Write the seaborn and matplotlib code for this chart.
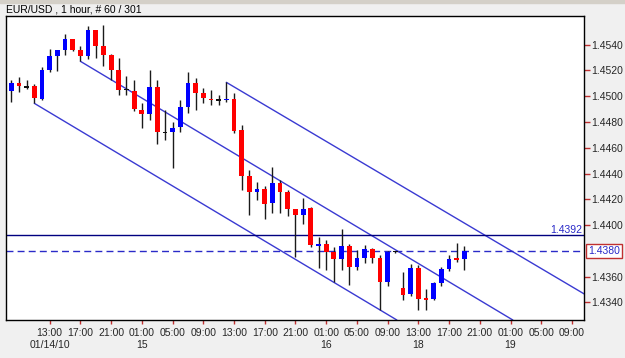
import numpy as np
import pandas as pd
import matplotlib
matplotlib.use("Agg")
import matplotlib.pyplot as plt
import matplotlib.transforms as mtransforms
from matplotlib.patches import Rectangle
import seaborn as sns

# ---------------- data (EUR/USD, 1 hour, 60 bars) ----------------
opens = [1.45043, 1.45101, 1.45072, 1.45077, 1.44981, 1.45206, 1.45315, 1.45357, 1.45444, 1.45357,
         1.45315, 1.45512, 1.45388, 1.45323, 1.45206, 1.45051, 1.45039, 1.44896, 1.44865, 1.45070,
         1.44720, 1.44725, 1.44764, 1.44919, 1.45101, 1.45023, 1.44979, 1.44971, 1.44973, 1.44979,
         1.44738, 1.44381, 1.44259, 1.44278, 1.44169, 1.44329, 1.44259, 1.44125, 1.44082, 1.44131,
         1.43846, 1.43851, 1.43794, 1.43737, 1.43840, 1.43677, 1.43747, 1.43812, 1.43747, 1.43561,
         1.43794, 1.43510, 1.43466, 1.43670, 1.43431, 1.43424, 1.43549, 1.43657, 1.43740, 1.43737]
highs = [1.45129, 1.45147, 1.45126, 1.45095, 1.45229, 1.45369, 1.45360, 1.45483, 1.45448, 1.45388,
         1.45543, 1.45515, 1.45555, 1.45326, 1.45297, 1.45155, 1.45124, 1.44948, 1.45204, 1.45129,
         1.44893, 1.44803, 1.44971, 1.45186, 1.45139, 1.45062, 1.45049, 1.45010, 1.45108, 1.45023,
         1.44777, 1.44428, 1.44337, 1.44304, 1.44449, 1.44350, 1.44273, 1.44128, 1.44210, 1.44143,
         1.43908, 1.43885, 1.43830, 1.43968, 1.43853, 1.43807, 1.43846, 1.43820, 1.43768, 1.43799,
         1.43803, 1.43639, 1.43698, 1.43690, 1.43504, 1.43555, 1.43677, 1.43768, 1.43859, 1.43842]
lows = [1.44953, 1.45033, 1.45059, 1.44945, 1.44969, 1.45188, 1.45198, 1.45323, 1.45349, 1.45271,
        1.45289, 1.45297, 1.45233, 1.45129, 1.45012, 1.45012, 1.44883, 1.44754, 1.44816, 1.44632,
        1.44661, 1.44441, 1.44725, 1.44868, 1.44893, 1.44945, 1.44932, 1.44932, 1.44958, 1.44713,
        1.44273, 1.44079, 1.44192, 1.44048, 1.44092, 1.44094, 1.44071, 1.43755, 1.44009, 1.43833,
        1.43667, 1.43652, 1.43561, 1.43652, 1.43535, 1.43652, 1.43704, 1.43704, 1.43341, 1.43528,
        1.43784, 1.43419, 1.43450, 1.43338, 1.43338, 1.43419, 1.43525, 1.43642, 1.43714, 1.43652]
closes = [1.45103, 1.45077, 1.45072, 1.44987, 1.45206, 1.45310, 1.45357, 1.45444, 1.45357, 1.45315,
          1.45512, 1.45388, 1.45323, 1.45206, 1.45051, 1.45051, 1.44904, 1.44865, 1.45070, 1.44723,
          1.44720, 1.44756, 1.44919, 1.45101, 1.45023, 1.44984, 1.44974, 1.44971, 1.44976, 1.44733,
          1.44381, 1.44259, 1.44278, 1.44164, 1.44329, 1.44259, 1.44125, 1.44081, 1.44129, 1.43846,
          1.43850, 1.43794, 1.43741, 1.43840, 1.43677, 1.43743, 1.43812, 1.43747, 1.43561, 1.43794,
          1.43794, 1.43458, 1.43670, 1.43427, 1.43426, 1.43549, 1.43657, 1.43737, 1.43735, 1.43800]

# channel lines: start/end (bar index, price)
chan_x0 = [3, 9, 28]
chan_p0 = [1.44945, 1.45271, 1.45108]
chan_x1 = [50.2, 65.3, 74.6]
chan_p1 = [1.43264, 1.43264, 1.43466]

level_line = 1.4392
bid_line = 1.4380

time_labels = ["13:00", "17:00", "21:00", "01:00", "05:00", "09:00",
               "13:00", "17:00", "21:00", "01:00", "05:00", "09:00",
               "13:00", "17:00", "21:00", "01:00", "05:00", "09:00"]
date_labels = ["01/14/10", "", "", "15", "", "",
               "", "", "", "16", "", "",
               "18", "", "", "19", "", ""]
ytick_vals = [1.4340, 1.4360, 1.4400, 1.4420, 1.4440, 1.4460, 1.4480, 1.4500, 1.4520, 1.4540]
title = "EUR/USD , 1 hour, # 60 / 301"

# ---------------- style ----------------
sns.set_style("white")
plt.rcParams["font.family"] = ["Liberation Sans", "DejaVu Sans"]

W, H = 625, 358
fig = plt.figure(figsize=(W / 100, H / 100), dpi=100, facecolor="#f0f0f0")
ax = fig.add_axes([6 / W, 1 - 320 / H, 578 / W, (320 - 15.7) / H])
ax.set_facecolor("white")
fig.add_artist(Rectangle((0, 1 - 3 / H), 1, 3 / H, transform=fig.transFigure,
                         color="#d4d0c8", zorder=0))

df = pd.DataFrame({"open": opens, "high": highs, "low": lows, "close": closes})
df["idx"] = np.arange(len(df))

# channel lines via seaborn
rows = []
for k in range(len(chan_x0)):
    rows.append({"line": k, "x": chan_x0[k], "y": chan_p0[k]})
    rows.append({"line": k, "x": chan_x1[k], "y": chan_p1[k]})
cdf = pd.DataFrame(rows)
sns.lineplot(data=cdf, x="x", y="y", units="line", estimator=None, sort=False,
             color="#3a3ad2", lw=1.0, ax=ax, legend=False, zorder=2)

ax.axhline(level_line, color="#000080", lw=1.0, zorder=2)
ax.axhline(bid_line, color="#2a2ac8", lw=1.0, ls=(0, (5, 3)), zorder=2)

# candles
def col(o, c):
    if c > o:
        return "#0000ff"
    if c < o:
        return "#ff0000"
    return "#111111"

colors = [col(o, c) for o, c in zip(df["open"], df["close"])]
ax.vlines(df["idx"], df["low"], df["high"], color="#1a1a1a", lw=1.0, zorder=3)
minh = 0.00012
bot = np.minimum(df["open"], df["close"]).values
hgt = np.abs(df["close"] - df["open"]).values
small = hgt < minh
bot = np.where(small, bot + hgt / 2 - minh / 2, bot)
hgt = np.where(small, minh, hgt)
ax.bar(df["idx"], hgt, bottom=bot, width=0.62, color=colors, linewidth=0, zorder=4)

# axes
ax.set_xlim(-0.69, 74.57)
ax.set_ylim(1.43264, 1.45625)
ax.set_xlabel("")
ax.set_ylabel("")
ax.yaxis.tick_right()
ax.set_yticks(ytick_vals)
ax.set_yticklabels([f"{v:.4f}" for v in ytick_vals])
xt = np.arange(5, 5 + 4 * len(time_labels), 4)
ax.set_xticks(xt)
ax.set_xticklabels([t + "\n" + d for t, d in zip(time_labels, date_labels)],
                   linespacing=1.25)
ax.tick_params(axis="y", which="both", right=True, left=False, length=4, width=1,
               color="#c03030", labelsize=7.5, pad=1, direction="out")
ax.tick_params(axis="x", which="both", bottom=True, length=3, width=1,
               color="#c03030", labelsize=7.5, pad=3, direction="out")
for lab in ax.get_xticklabels():
    lab.set_verticalalignment("top")
for s in ax.spines.values():
    s.set_color("black")
    s.set_linewidth(1.0)
    s.set_visible(True)

trans = mtransforms.blended_transform_factory(ax.transAxes, ax.transData)
ax.text(0.997, level_line + 0.00007, f"{level_line:.4f}", transform=trans,
        ha="right", va="bottom", color="#2828c8", fontsize=7.5, zorder=5)
ax.text(1.0075, bid_line, f"{bid_line:.4f}", transform=trans, ha="left", va="center",
        color="#2828c8", fontsize=7.5, clip_on=False, zorder=6,
        bbox=dict(boxstyle="square,pad=0.2", fc="white", ec="#c03030", lw=1))

fig.text(6.5 / W, 1 - 9 / H, title, ha="left", va="center", fontsize=7.5, color="black")

fig.savefig("out.png", dpi=100, facecolor=fig.get_facecolor())
